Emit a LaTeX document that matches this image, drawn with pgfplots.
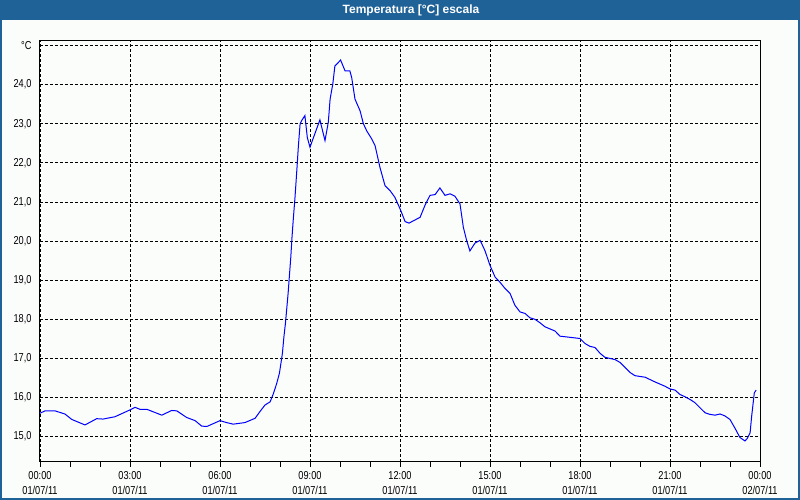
\documentclass[border=0pt]{standalone}
\usepackage{pgfplots}
\pgfplotsset{compat=1.18}
\usepackage{fontspec}
\setmainfont{Liberation Sans}
\newfontfamily\tickfont[FakeStretch=0.8]{Liberation Sans}
\definecolor{barblue}{RGB}{30,98,152}
\definecolor{bgc}{RGB}{251,253,251}
\begin{document}
\begin{tikzpicture}[x=1pt,y=1pt]
\useasboundingbox (0,0) rectangle (800,500);
\fill[bgc] (0,0) rectangle (800,500);
\fill[barblue] (0,479.5) rectangle (800,500);
\draw[barblue, line width=2pt] (1,1) rectangle (799,499);
\node[text=white, font=\fontsize{12}{14}\selectfont\bfseries] at (411,489.5) {Temperatura [°C] escala};
\begin{axis}[
 at={(40pt,38.3pt)}, anchor=south west,
 scale only axis, width=720pt, height=421.2pt,
 xmin=0, xmax=24, ymin=14.36, ymax=25.13,
 axis line style={line width=1pt},
 xtick={0,3,...,24},
 minor xtick={1,2,4,5,7,8,10,11,13,14,16,17,19,20,22,23},
 xtick pos=bottom, tick align=outside,
 major tick length=5pt, minor tick length=5pt,
 xtick style={black, line width=0.8pt},
 minor tick style={black, line width=0.8pt},
 ytick={15,16,17,18,19,20,21,22,23,24,25},
 ytick style={draw=none}, ytick pos=left,
 yticklabels={{15,0},{16,0},{17,0},{18,0},{19,0},{20,0},{21,0},{22,0},{23,0},{24,0},{°C}},
 xticklabels={{00:00\\01/07/11},{03:00\\01/07/11},{06:00\\01/07/11},{09:00\\01/07/11},{12:00\\01/07/11},{15:00\\01/07/11},{18:00\\01/07/11},{21:00\\01/07/11},{00:00\\02/07/11}},
 xticklabel style={align=center, font=\tickfont\fontsize{11.5}{15.5}\selectfont, yshift=-1pt},
 yticklabel style={font=\tickfont\fontsize{11.5}{13}\selectfont},
 xmajorgrids, ymajorgrids,
 major grid style={black, dash pattern=on 3pt off 2pt, line width=0.9pt},
]
\addplot[blue, line width=1pt] table {
0 15.60
0.17 15.66
0.5 15.66
0.83 15.58
1.06 15.44
1.5 15.30
1.89 15.46
2.1 15.45
2.5 15.51
2.93 15.66
3.17 15.75
3.33 15.70
3.56 15.70
4.06 15.55
4.39 15.67
4.56 15.66
4.89 15.49
5.17 15.41
5.39 15.27
5.56 15.26
6.0 15.41
6.22 15.36
6.44 15.32
6.83 15.36
7.17 15.47
7.33 15.64
7.5 15.81
7.67 15.89
7.78 16.10
7.89 16.36
7.98 16.62
8.03 16.87
8.08 17.13
8.13 17.55
8.18 17.89
8.22 18.23
8.27 18.66
8.31 19.08
8.36 19.59
8.4 20.10
8.44 20.53
8.5 21.12
8.56 21.80
8.61 22.40
8.67 23.00
8.72 23.08
8.83 23.21
8.91 22.65
9.0 22.40
9.06 22.53
9.33 23.10
9.5 22.57
9.61 23.04
9.67 23.63
9.76 24.02
9.83 24.48
9.91 24.54
10.02 24.63
10.17 24.35
10.33 24.35
10.39 24.18
10.5 23.63
10.67 23.33
10.78 23.00
10.89 22.82
11.06 22.61
11.17 22.44
11.33 21.89
11.5 21.42
11.67 21.29
11.83 21.12
12.0 20.83
12.17 20.50
12.3 20.46
12.67 20.61
12.83 20.91
13.0 21.17
13.17 21.19
13.33 21.36
13.5 21.17
13.67 21.21
13.83 21.15
14.0 20.95
14.11 20.36
14.22 20.02
14.33 19.75
14.5 19.95
14.67 20.02
14.83 19.76
15.0 19.38
15.17 19.08
15.33 18.95
15.5 18.79
15.67 18.66
15.83 18.36
16.0 18.19
16.17 18.15
16.33 18.04
16.5 18.00
16.67 17.91
16.83 17.81
17.17 17.70
17.33 17.57
17.67 17.54
18.0 17.51
18.17 17.38
18.33 17.31
18.5 17.28
18.67 17.13
18.83 17.03
19.17 16.97
19.33 16.90
19.5 16.77
19.67 16.64
19.83 16.56
20.17 16.52
20.5 16.40
20.83 16.29
21.0 16.22
21.17 16.19
21.33 16.08
21.5 16.02
21.67 15.95
21.83 15.87
22.0 15.74
22.17 15.61
22.33 15.57
22.5 15.55
22.67 15.58
22.83 15.53
23.0 15.44
23.17 15.21
23.33 14.98
23.5 14.89
23.58 14.96
23.67 15.10
23.72 15.51
23.81 16.12
23.87 16.19
};
\end{axis}
\end{tikzpicture}
\end{document}
